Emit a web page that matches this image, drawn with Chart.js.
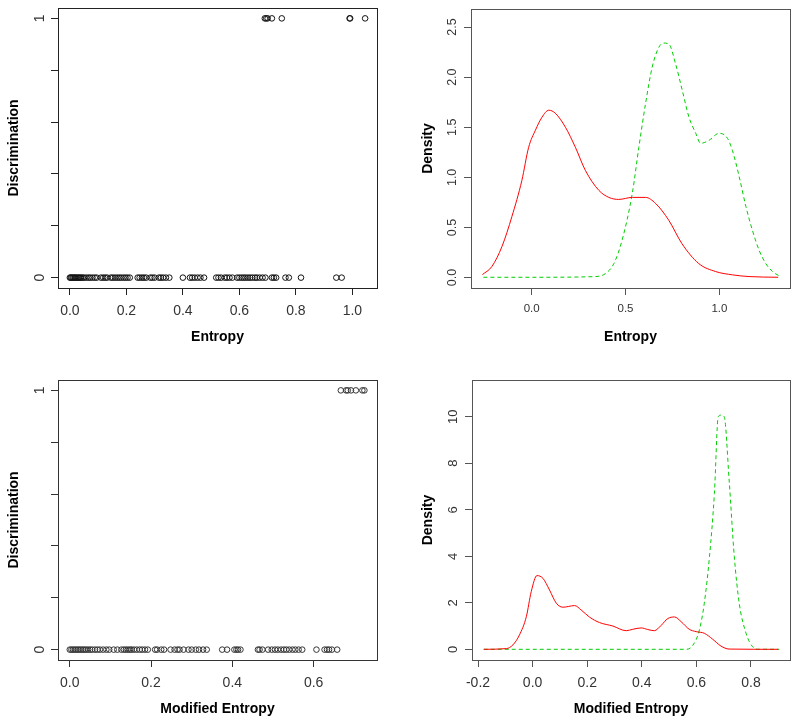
<!DOCTYPE html>
<html>
<head>
<meta charset="utf-8">
<script src="https://cdn.jsdelivr.net/npm/chart.js@4.4.1/dist/chart.umd.min.js"></script>
<style>
  body { margin: 0; background: #fff; }
  #wrap { position: relative; width: 800px; height: 726px; }
  canvas { position: absolute; }
</style>
</head>
<body>
<div id="wrap">
  <canvas id="tl" width="400" height="363" style="left:0;top:0"></canvas>
  <canvas id="tr" width="400" height="363" style="left:400px;top:0"></canvas>
  <canvas id="bl" width="400" height="363" style="left:0;top:363px"></canvas>
  <canvas id="br" width="400" height="363" style="left:400px;top:363px"></canvas>
</div>
<script>
// Entropy vs discrimination (top left)
const entropyNo = [0.000, 0.003, 0.006, 0.010, 0.013, 0.017, 0.020, 0.024, 0.028, 0.032, 0.036, 0.040,
  0.045, 0.050, 0.058, 0.066, 0.072, 0.080, 0.088, 0.095, 0.110, 0.118, 0.125, 0.132, 0.145, 0.152,
  0.160, 0.168, 0.175, 0.182, 0.190, 0.197, 0.204, 0.212, 0.240, 0.247, 0.255, 0.262, 0.270, 0.285,
  0.292, 0.300, 0.315, 0.322, 0.330, 0.340, 0.352, 0.400, 0.425, 0.433, 0.442, 0.452, 0.462, 0.475,
  0.518, 0.526, 0.535, 0.548, 0.556, 0.565, 0.575, 0.592, 0.600, 0.608, 0.615, 0.622, 0.630, 0.638,
  0.646, 0.655, 0.662, 0.672, 0.682, 0.692, 0.715, 0.722, 0.730, 0.763, 0.775, 0.818, 0.943, 0.962];
const entropyYes = [0.690, 0.695, 0.700, 0.715, 0.750, 0.990, 0.992, 1.045];

// Modified entropy vs discrimination (bottom left)
const modEntropyNo = [0.000, 0.004, 0.008, 0.012, 0.016, 0.020, 0.024, 0.028, 0.032, 0.036, 0.040,
  0.045, 0.050, 0.055, 0.062, 0.068, 0.074, 0.082, 0.090, 0.097, 0.108, 0.117, 0.127, 0.133, 0.138,
  0.143, 0.148, 0.152, 0.158, 0.165, 0.172, 0.178, 0.185, 0.192, 0.210, 0.215, 0.225, 0.232, 0.248,
  0.258, 0.265, 0.270, 0.280, 0.292, 0.300, 0.310, 0.318, 0.328, 0.337, 0.375, 0.387, 0.405, 0.410,
  0.414, 0.420, 0.463, 0.467, 0.474, 0.488, 0.497, 0.505, 0.512, 0.520, 0.527, 0.533, 0.540, 0.548,
  0.555, 0.563, 0.572, 0.607, 0.627, 0.633, 0.638, 0.645, 0.658];
const modEntropyYes = [0.667, 0.680, 0.684, 0.692, 0.704, 0.720, 0.725];

// Density of entropy (top right)
const entRedX = [-0.262, -0.212, -0.158, -0.105, -0.052, -0.016, 0.020, 0.055, 0.091, 0.126, 0.180,
  0.233, 0.286, 0.358, 0.411, 0.464, 0.536, 0.607, 0.660, 0.731, 0.800, 0.890, 0.980, 1.070, 1.158, 1.313];
const entRedY = [0.03, 0.11, 0.31, 0.61, 0.97, 1.30, 1.47, 1.60, 1.67, 1.64, 1.50,
  1.30, 1.07, 0.87, 0.80, 0.78, 0.80, 0.80, 0.74, 0.57, 0.34, 0.14, 0.06, 0.027, 0.01, 0.003];
const entGreenX = [-0.257, 0.000, 0.340, 0.393, 0.438, 0.482, 0.536, 0.571, 0.607, 0.642, 0.678, 0.705,
  0.731, 0.767, 0.802, 0.838, 0.874, 0.900, 0.945, 0.998, 1.043, 1.069, 1.105, 1.141, 1.176, 1.212,
  1.247, 1.283, 1.318];
const entGreenY = [0.003, 0.003, 0.01, 0.04, 0.14, 0.375, 0.84, 1.30, 1.74, 2.10, 2.30, 2.34,
  2.33, 2.13, 1.87, 1.60, 1.44, 1.34, 1.37, 1.44, 1.39, 1.27, 1.01, 0.71, 0.47, 0.27,
  0.14, 0.06, 0.017];

// Density of modified entropy (bottom right)
const modRedX = [-0.179, -0.096, -0.072, -0.048, -0.023, -0.005, 0.016, 0.038, 0.062, 0.087, 0.111,
  0.154, 0.178, 0.209, 0.245, 0.294, 0.343, 0.367, 0.398, 0.422, 0.446, 0.471, 0.495, 0.520, 0.544,
  0.574, 0.599, 0.629, 0.660, 0.690, 0.720, 0.900];
const modRedY = [0, 0.03, 0.19, 0.62, 1.40, 2.48, 3.17, 3.05, 2.55, 1.98, 1.81,
  1.88, 1.69, 1.38, 1.15, 1.00, 0.80, 0.86, 0.92, 0.85, 0.80, 1.03, 1.32, 1.39, 1.19,
  0.86, 0.76, 0.69, 0.43, 0.14, 0.01, 0];
const modGreenX = [-0.179, 0.562, 0.587, 0.611, 0.629, 0.648, 0.666, 0.680, 0.690, 0.702, 0.720,
  0.739, 0.757, 0.782, 0.806, 0.830, 0.904];
const modGreenY = [0, 0, 0.17, 0.83, 1.98, 3.98, 6.70, 10.0, 10.07, 10.0, 7.28,
  3.98, 1.98, 0.69, 0.11, 0, 0];

// tick positions and labels
const discTicks = [0, 0.2, 0.4, 0.6, 0.8, 1];
const discLabels = ['0', '', '', '', '', '1'];
const entropyTicks = [0, 0.2, 0.4, 0.6, 0.8, 1.0];
const modEntropyTicks = [0, 0.2, 0.4, 0.6];
const entDensXTicks = [0, 0.5, 1.0];
const entDensYTicks = [0, 0.5, 1.0, 1.5, 2.0, 2.5];
const entDensYLabels = ['0.0', '0.5', '1.0', '1.5', '2.0', '2.5'];
const modDensXTicks = [-0.2, 0, 0.2, 0.4, 0.6, 0.8];
const modDensYTicks = [0, 2, 4, 6, 8, 10];
const modDensYLabels = ['0', '2', '4', '6', '8', '10'];

const FONT = '"Liberation Sans", Arial, sans-serif';

// R style box + rotated y tick labels
const rFrame = {
  id: 'rFrame',
  afterDatasetsDraw(chart, args, o) {
    const { ctx, chartArea: a } = chart;
    const y = chart.scales.y;
    ctx.save();
    ctx.strokeStyle = o.color;
    ctx.lineWidth = 1;
    ctx.strokeRect(Math.round(a.left) + 0.5, Math.round(a.top) + 0.5,
      Math.round(a.right - a.left), Math.round(a.bottom - a.top));
    ctx.fillStyle = o.labelColor;
    ctx.font = o.size + 'px ' + FONT;
    ctx.textAlign = 'center';
    ctx.textBaseline = 'middle';
    o.ticks.forEach((v, i) => {
      if (!o.labels[i]) return;
      ctx.save();
      ctx.translate(o.labelX, y.getPixelForValue(v));
      ctx.rotate(-Math.PI / 2);
      ctx.fillText(o.labels[i], 0, 0);
      ctx.restore();
    });
    ctx.restore();
  }
};

function pts(xs, ys) {
  return xs.map((x, i) => ({ x: x, y: ys[i] }));
}

function panel(id, p) {
  new Chart(document.getElementById(id), {
    type: 'scatter',
    data: { datasets: p.datasets },
    plugins: [rFrame],
    options: {
      responsive: false,
      animation: false,
      layout: { padding: { top: p.area[1], right: 400 - p.area[2], left: 0, bottom: 0 } },
      plugins: {
        legend: { display: false },
        tooltip: { enabled: false },
        rFrame: { color: p.frame, labelColor: p.labelColor, size: p.ySize, labelX: p.yLabelX,
          ticks: p.yTicks, labels: p.yLabels }
      },
      scales: {
        x: {
          type: 'linear', min: p.xRange[0], max: p.xRange[1],
          afterBuildTicks: s => { s.ticks = p.xTicks.map(v => ({ value: v })); },
          afterFit: s => { s.height = 363 - p.area[3]; },
          ticks: { callback: v => v.toFixed(1), font: { family: FONT, size: p.xSize },
            color: p.labelColor, padding: p.xPad, maxRotation: 0, autoSkip: false },
          grid: { drawOnChartArea: false, drawTicks: true, tickLength: 7, color: p.frame },
          border: { display: false },
          title: { display: true, text: p.xTitle, color: '#000',
            font: { family: FONT, size: 14, weight: 'bold' }, padding: { top: 0, bottom: p.xTitlePad } }
        },
        y: {
          type: 'linear', min: p.yRange[0], max: p.yRange[1],
          afterBuildTicks: s => { s.ticks = p.yTicks.map(v => ({ value: v })); },
          afterFit: s => { s.width = p.area[0]; },
          ticks: { display: false },
          grid: { drawOnChartArea: false, drawTicks: true, tickLength: 7, color: p.frame },
          border: { display: false },
          title: { display: true, text: p.yTitle, color: '#000',
            font: { family: FONT, size: 14, weight: 'bold' }, padding: { top: p.yTitlePad, bottom: 0 } }
        }
      }
    }
  });
}

function dots(xs, yv, color) {
  return {
    data: xs.map(x => ({ x: x, y: yv })),
    pointStyle: 'circle', pointRadius: 2.8, borderWidth: 1,
    borderColor: color, backgroundColor: 'rgba(0,0,0,0)'
  };
}

function curve(xs, ys, color, dash) {
  return {
    data: pts(xs, ys), showLine: true, pointRadius: 0, borderWidth: 1,
    borderColor: color, borderDash: dash, cubicInterpolationMode: 'monotone', fill: false
  };
}

panel('tl', {
  area: [58, 8, 377, 288], xRange: [-0.042, 1.087], yRange: [-0.04, 1.04],
  xTicks: entropyTicks, yTicks: discTicks, yLabels: discLabels,
  xSize: 14, ySize: 14, yLabelX: 40, xPad: 8, xTitlePad: 17, yTitlePad: 6,
  frame: '#222', labelColor: '#333', xTitle: 'Entropy', yTitle: 'Discrimination',
  datasets: [dots(entropyNo, 0, '#111'), dots(entropyYes, 1, '#111')]
});

panel('tr', {
  area: [71, 9, 390, 288], xRange: [-0.323, 1.376], yRange: [-0.104, 2.68],
  xTicks: entDensXTicks, yTicks: entDensYTicks, yLabels: entDensYLabels,
  xSize: 11.5, ySize: 12.5, yLabelX: 53, xPad: 7, xTitlePad: 17, yTitlePad: 20,
  frame: '#555', labelColor: '#333', xTitle: 'Entropy', yTitle: 'Density',
  datasets: [curve(entRedX, entRedY, '#ff0000', []), curve(entGreenX, entGreenY, '#00cd00', [4, 3])]
});

panel('bl', {
  area: [58, 17, 377, 297], xRange: [-0.029, 0.756], yRange: [-0.04, 1.04],
  xTicks: modEntropyTicks, yTicks: discTicks, yLabels: discLabels,
  xSize: 14, ySize: 14, yLabelX: 40, xPad: 8, xTitlePad: 8, yTitlePad: 6,
  frame: '#333', labelColor: '#333', xTitle: 'Modified Entropy', yTitle: 'Discrimination',
  datasets: [dots(modEntropyNo, 0, '#333'), dots(modEntropyYes, 1, '#333')]
});

panel('br', {
  area: [72, 17, 390, 297], xRange: [-0.222, 0.943], yRange: [-0.46, 11.58],
  xTicks: modDensXTicks, yTicks: modDensYTicks, yLabels: modDensYLabels,
  xSize: 14, ySize: 13, yLabelX: 53, xPad: 8, xTitlePad: 8, yTitlePad: 20,
  frame: '#555', labelColor: '#333', xTitle: 'Modified Entropy', yTitle: 'Density',
  datasets: [curve(modRedX, modRedY, '#ff0000', []), curve(modGreenX, modGreenY, '#00cd00', [4, 3])]
});
</script>
</body>
</html>
